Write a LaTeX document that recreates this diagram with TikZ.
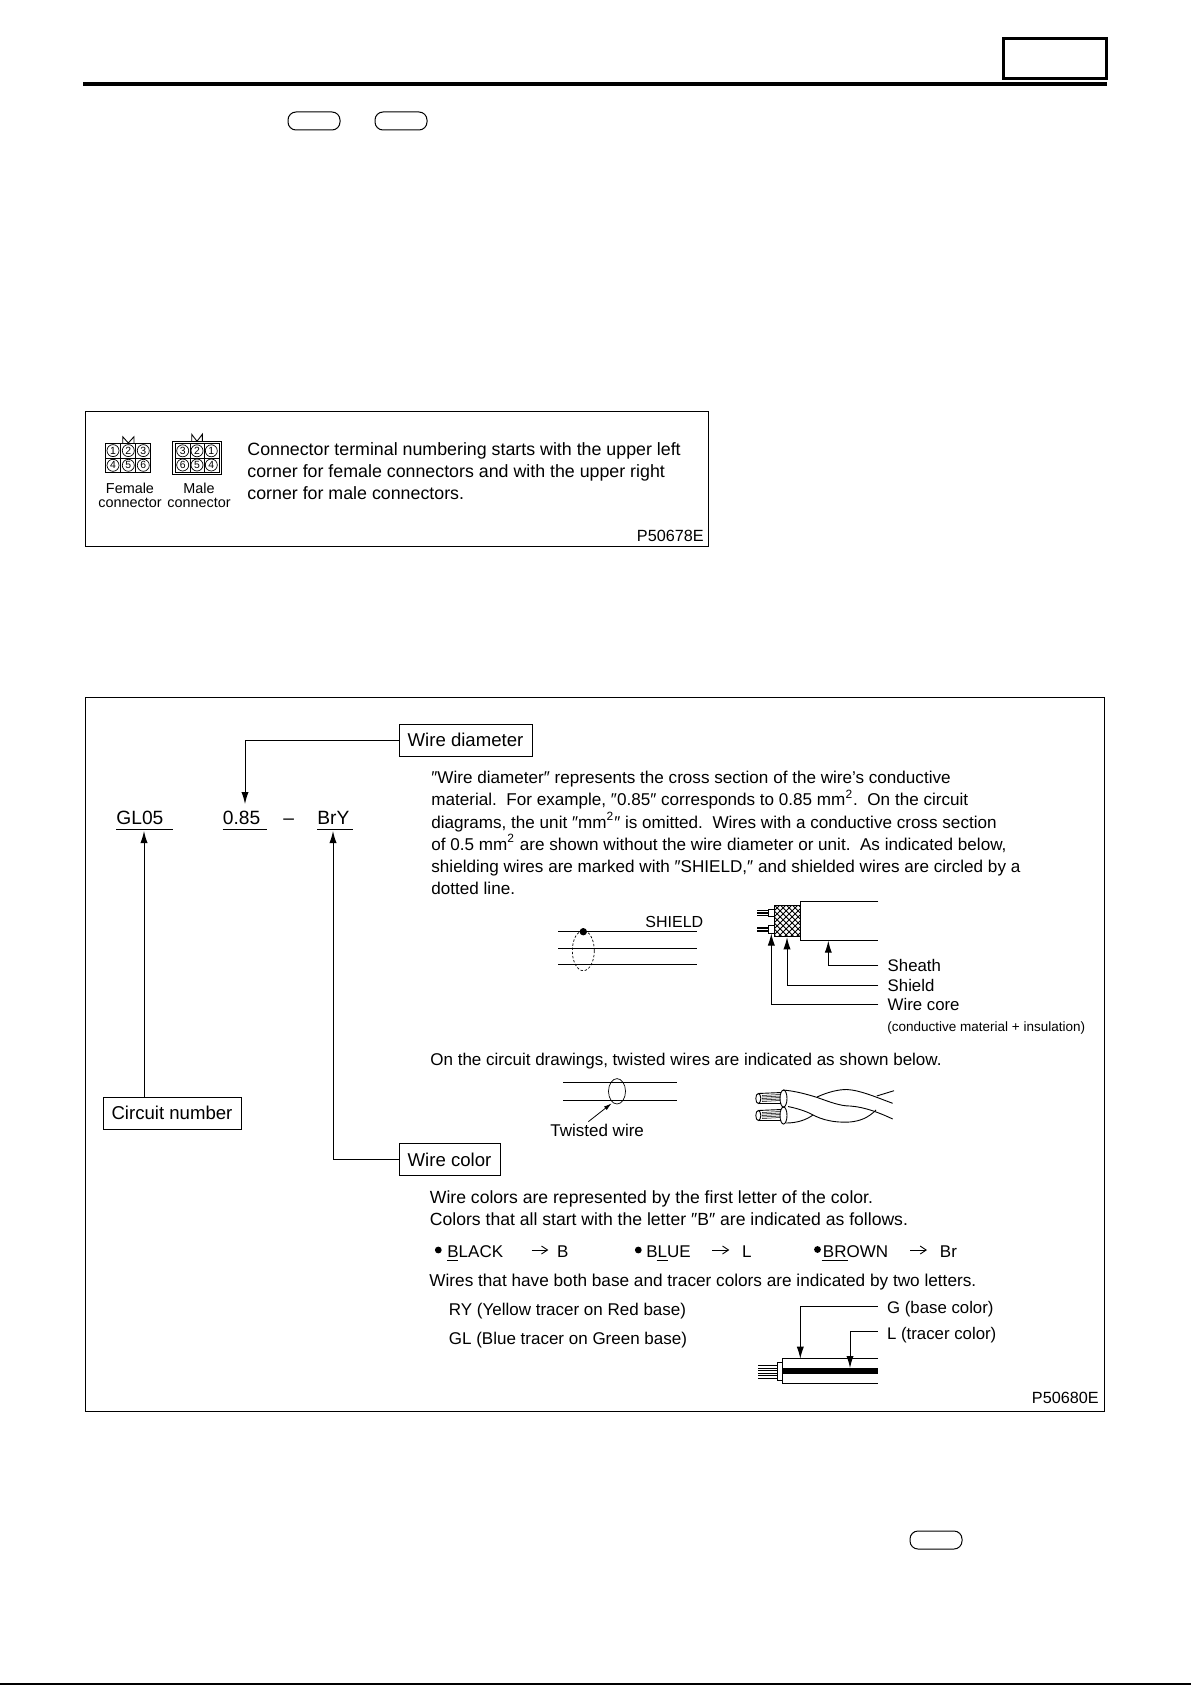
\documentclass[tikz,border=0pt]{standalone}
\usepackage{fontspec}
\setmainfont{Liberation Sans}
\usetikzlibrary{arrows.meta,patterns}

\tikzset{
    txt/.style={anchor=base west, inner sep=0pt, font=\fontsize{8.5}{11}\selectfont},
    small/.style={anchor=base west, inner sep=0pt, font=\fontsize{7.2}{11}\selectfont},
    para/.style={
        anchor=north west,
        inner sep=0pt,
        align=left,
        font=\fontsize{8.55}{11.05}\selectfont
    },
    tag/.style={draw, line width=.5pt, minimum height=16pt, inner sep=3pt, font=\fontsize{9.3}{11}\selectfont},
    code/.style={anchor=base west, inner sep=0pt, font=\fontsize{9.6}{11}\selectfont},
    lbl/.style={anchor=base west, inner sep=0pt, font=\fontsize{8.5}{11}\selectfont},
    side/.style={anchor=west, inner ysep=0pt, inner xsep=4.5pt, font=\fontsize{8.4}{11}\selectfont},
    pill/.style={draw, rounded corners=4pt, line width=.5pt},
    leader/.style={line width=.5pt, -{Latex[length=6pt,width=3.6pt]}},
    thinbarb/.style={line width=.45pt, -{Straight Barb[length=3pt,width=4pt]}},
    fine/.style={line width=.45pt},
    pin/.style={circle, draw, line width=.35pt, minimum size=6pt, inner sep=0pt, font=\fontsize{5.2}{5}\selectfont}
}

\begin{document}
\begin{tikzpicture}[x=.5pt, y=-.5pt]
\useasboundingbox (0,0) rectangle (1191,1685);

% page head
\draw [line width=1.5pt] (1003,39) rectangle (1106,79);
\draw [line width=2pt] (83,84) -- (1107,84);
\draw [pill] (288,112) rectangle (340,130);
\draw [pill] (375,112) rectangle (427,130);
\draw [pill] (910,1531) rectangle (962,1549);
\draw [line width=.9pt] (0,1684) -- (1191,1684);

% connector box
\draw [line width=.5pt] (85,411) rectangle (708,546);

% female connector
\draw [fine] (105,443.3) rectangle (150.7,472.7);
\draw [fine] (105,458) -- (150.7,458) (120.7,443.3) -- (120.7,472.7) (135.7,443.3) -- (135.7,472.7);
\draw [fine] (122.7,443) -- (122.7,436.7) -- (128.3,443) -- (134,436.7) -- (134,443);
\foreach \pinx/\piny/\pinno in {113/450.6/1, 128.3/450.6/2, 143.3/450.6/3, 113/465.3/4, 128.3/465.3/5, 143.3/465.3/6}
    \node [pin] at (\pinx,\piny) {\pinno};
\node (femalelbl) [small, anchor=base] at (130,493) {Female};
\node (femaleconn) [small, anchor=base] at (130,507) {connector};

% male connector
\draw [fine] (172.3,441.3) rectangle (221.7,474.3);
\draw [fine] (175,443.7) rectangle (219,472);
\draw [fine] (175,458) -- (219,458) (190,443.7) -- (190,472) (204,443.7) -- (204,472);
\draw [fine] (191.7,441.3) -- (191.7,434.3) -- (197,441.3) -- (202.3,434.3) -- (202.3,441.3);
\foreach \pinx/\piny/\pinno in {182.7/450.8/3, 197/450.8/2, 211.3/450.8/1, 182.7/465/6, 197/465/5, 211.3/465/4}
    \node [pin] at (\pinx,\piny) {\pinno};
\node (malelbl) [small, anchor=base] at (199,493) {Male};
\node (maleconn) [small, anchor=base] at (199,507) {connector};

\node (numbering) [para, font=\fontsize{8.9}{11.05}\selectfont] at (247,442) {Connector terminal numbering starts with the upper left\\
    corner for female connectors and with the upper right\\
    corner for male connectors.};
\node (figone) [lbl, anchor=base east, font=\fontsize{8.1}{11}\selectfont] at (704,541) {P50678E};

% wire box
\draw [line width=.5pt] (85,697.5) rectangle (1104.5,1411);

\node (wirediam) [tag, minimum width=66.5pt] at (465.5,740) {Wire diameter};
\node (circuitno) [tag, minimum width=69pt] at (172,1113) {Circuit number};
\node (wirecolor) [tag, minimum width=50.5pt] at (449.5,1159.5) {Wire color};

\node (gl) [code] at (116,824.5) {GL05};
\node (size) [code] at (222.5,824.5) {0.85};
\node (dash) [code] at (283,824.5) {–};
\node (bry) [code] at (317,824.5) {BrY};
\draw [line width=.5pt] (116,829) -- (173,829) (222.5,829) -- (266.5,829) (317,829) -- (352.5,829);

\coordinate (sizetip) at (245,804);
\coordinate (gltip) at (144,831);
\coordinate (brytip) at (333,831);
\draw [leader] (wirediam.west) -| (sizetip);
\draw [leader] (circuitno.north -| gltip) -- (gltip);
\draw [leader] (wirecolor.west) -| (brytip);

\node (diamtext) [para] at (431,771) {″Wire diameter″ represents the cross section of the wire's conductive\\
    material.\ \ For example, ″0.85″ corresponds to 0.85 mm\textsuperscript{2}.\ \ On the circuit\\
    diagrams, the unit ″mm\textsuperscript{2}″ is omitted.\ \ Wires with a conductive cross section\\
    of 0.5 mm\textsuperscript{2} are shown without the wire diameter or unit.\ \ As indicated below,\\
    shielding wires are marked with ″SHIELD,″ and shielded wires are circled by a\\
    dotted line.};

% shield symbol
\foreach \liney in {931.7,948.3,964.3}
    \draw [fine] (558,\liney) -- (696.7,\liney);
\fill (583.3,931.7) circle [radius=3.7];
\draw [dash pattern=on 1.2pt off .9pt, line width=.35pt] (583.3,950.7) ellipse [x radius=11, y radius=20];
\node (shieldlbl) [lbl, font=\fontsize{8}{11}\selectfont] at (645,927) {SHIELD};

% shield cut-away
\draw [fine] (878.3,901.7) -- (800,901.7) -- (800,940.3) -- (878.3,940.3);
\draw [pattern=crosshatch, line width=.4pt] (774.3,905.3) rectangle (800,936.7);
\draw [fine] (768.3,909) rectangle (774.3,916.7);
\draw [fine] (768.3,925.3) rectangle (774.3,933.3);
\foreach \strandy in {910.5,912,913.5,915,926.8,928.3,929.8,931.3}
    \draw [line width=.25pt] (757.3,\strandy) -- (768.3,\strandy);
\node (sheathlbl) [side] at (878.3,965) {Sheath};
\node (shieldside) [side] at (878.3,985.5) {Shield};
\node (corelbl) [side] at (878.3,1004) {Wire core};
\node (corenote) [small, font=\fontsize{6.75}{8}\selectfont] at (887,1031) {(conductive material + insulation)};
\coordinate (sheathtip) at (828.3,940.7);
\coordinate (shieldtip) at (787,937.3);
\coordinate (coretip) at (771.3,933.5);
\draw [leader] (sheathlbl.west) -| (sheathtip);
\draw [leader] (shieldside.west) -| (shieldtip);
\draw [leader] (corelbl.west) -| (coretip);

\node (twistnote) [txt] at (430,1065.5) {On the circuit drawings, twisted wires are indicated as shown below.};

% twisted symbol
\draw [fine] (563.3,1082.3) -- (676.7,1082.3) (563.3,1100.3) -- (676.7,1100.3);
\draw [line width=.35pt] (617,1091.3) ellipse [x radius=8.5, y radius=12.7];
\node (twistlbl) [lbl] at (550,1136.5) {Twisted wire};
\coordinate (twistfoot) at (588.3,1121.7);
\coordinate (twisttip) at (611.7,1103.3);
\draw [line width=.4pt, -{Latex[length=4pt,width=2.2pt]}] (twistfoot) -- (twisttip);

% twisted wire picture
\foreach \wirey in {1098.5,1115.5} {
    \draw [fine] (781,\wirey-6) -- (758.3,\wirey-5) (781,\wirey+5) -- (758.3,\wirey+5);
    \foreach \strandy in {-3,-1.5,0,1.5,3}
        \draw [line width=.25pt] (762,\wirey+\strandy) -- (780,\wirey+\strandy-1);
    \draw [fine, fill=white] (758.3,\wirey) ellipse [x radius=2.5, y radius=5];
    \draw [fine] (783.5,\wirey) ellipse [x radius=3.5, y radius=8.5];
}
\draw [fine] (783,1090) .. controls (795,1091) and (806,1094) .. (816.7,1097.3) .. controls (830,1102) and (840,1106) .. (850,1106) .. controls (865,1107) and (880,1113) .. (892.7,1119);
\draw [fine] (788,1106.5) .. controls (800,1109) and (808,1112) .. (815,1116) .. controls (828,1122) and (840,1122.5) .. (850,1122) .. controls (860,1121) and (868,1118) .. (876,1110);
\draw [fine] (786,1123) .. controls (797,1123) and (806,1120) .. (813,1115) (817,1097) .. controls (828,1092) and (838,1089.5) .. (846.7,1089.5) .. controls (860,1090) and (878,1098) .. (892.7,1103.3);
\draw [fine] (876.7,1096) -- (894,1090.7);

\node (colortext) [para, font=\fontsize{8.8}{11.05}\selectfont] at (429.5,1190) {Wire colors are represented by the first letter of the color.\\
    Colors that all start with the letter ″B″ are indicated as follows.};

% colour examples
\fill (438.3,1250) circle [radius=3.4];
\node (black) [lbl] at (447,1257) {BLACK};
\draw [line width=.5pt] (447.3,1260) -- (457.5,1260);
\coordinate (blackfrom) at (531.7,1250);
\coordinate (blackto) at (548.3,1250);
\draw [thinbarb] (blackfrom) -- (blackto);
\node (blackcode) [lbl] at (556.7,1257) {B};

\fill (638.3,1250) circle [radius=3.4];
\node (blue) [lbl] at (646,1257) {BLUE};
\draw [line width=.5pt] (656.7,1260) -- (668,1260);
\coordinate (bluefrom) at (712.3,1250);
\coordinate (blueto) at (729.3,1250);
\draw [thinbarb] (bluefrom) -- (blueto);
\node (bluecode) [lbl] at (741.7,1257) {L};

\fill (817.5,1249.5) circle [radius=3.4];
\node (brown) [lbl] at (822.5,1257) {BROWN};
\draw [line width=.5pt] (821.7,1260) -- (848.3,1260);
\coordinate (brownfrom) at (910,1250);
\coordinate (brownto) at (927,1250);
\draw [thinbarb] (brownfrom) -- (brownto);
\node (browncode) [lbl] at (939.5,1257) {Br};

\node (twoletters) [txt, font=\fontsize{8.6}{11}\selectfont] at (429,1286) {Wires that have both base and tracer colors are indicated by two letters.};
\node (ry) [txt] at (448.5,1315.5) {RY (Yellow tracer on Red base)};
\node (glnote) [txt] at (448.5,1344.5) {GL (Blue tracer on Green base)};

% tracer wire
\draw [fine] (878,1358.7) -- (782.3,1358.7) -- (782.3,1383.3) -- (878,1383.3);
\fill (782.3,1368) rectangle (878,1374);
\draw [fine] (777.7,1362.7) rectangle (782.3,1380);
\foreach \strandy in {1365.5,1368,1370.5,1373,1375.5,1378}
    \draw [line width=.25pt] (758.3,\strandy) -- (777.7,\strandy);
\node (baselbl) [side, text height=7.6pt, text depth=0pt] at (877.7,1306) {G (base color)};
\node (tracerlbl) [side, text height=7.6pt, text depth=0pt] at (877.7,1331.5) {L (tracer color)};
\coordinate (basetip) at (800.3,1358.7);
\coordinate (tracertip) at (850,1368);
\draw [leader] (baselbl.west) -| (basetip);
\draw [leader] (tracerlbl.west) -| (tracertip);
\node (figtwo) [lbl, anchor=base east, font=\fontsize{8.1}{11}\selectfont] at (1099,1403) {P50680E};

\end{tikzpicture}
\end{document}
